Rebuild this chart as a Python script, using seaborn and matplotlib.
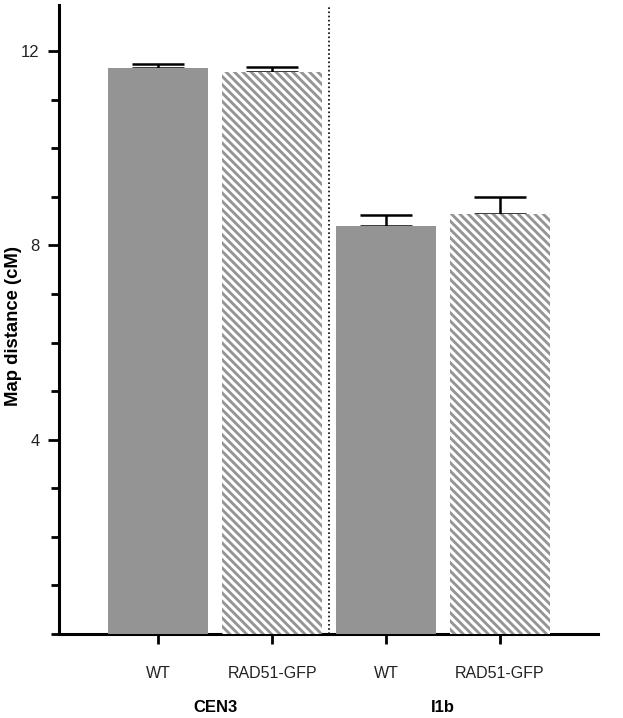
import matplotlib
matplotlib.use("Agg")
import matplotlib.pyplot as plt
import seaborn as sns
import pandas as pd
from matplotlib.ticker import MultipleLocator

categories = ["CEN3 WT", "CEN3 RAD51-GFP", "I1b WT", "I1b RAD51-GFP"]
tick_labels = ["WT", "RAD51-GFP", "WT", "RAD51-GFP"]
groups = ["CEN3", "I1b"]
values = [11.65, 11.58, 8.40, 8.64]
errors = [0.08, 0.10, 0.22, 0.36]

sns.set_theme(style="ticks")
plt.rcParams["font.family"] = ["Liberation Sans", "DejaVu Sans"]
plt.rcParams["hatch.linewidth"] = 2.2
plt.rcParams["hatch.color"] = "white"

df = pd.DataFrame({"cat": categories, "val": values})

fig = plt.figure(figsize=(6.23, 7.18), dpi=100)
ax = fig.add_axes([59/623, 1-634/718, (598-59)/623, (634-5)/718])

sns.barplot(data=df, x="cat", y="val", order=categories, color="#949494",
            width=0.88, saturation=1, errorbar=None, ax=ax, zorder=3)
for i, p in enumerate(ax.patches):
    p.set_facecolor("#949494")
    p.set_linewidth(0)
    if i % 2 == 1:
        p.set_hatch("\\\\\\\\")
        p.set_edgecolor("white")

ax.errorbar(range(4), values, yerr=[[0]*4, errors], fmt="none", ecolor="black",
            elinewidth=1.8, capsize=19, capthick=1.8, zorder=2)

ax.axvline(1.5, color="black", linestyle=(0, (1, 1.5)), linewidth=1.2, zorder=1)

ax.set_xlim(-0.87, 3.86)
ax.set_ylim(0, 12.95)
ax.yaxis.set_major_locator(MultipleLocator(4))
ax.yaxis.set_minor_locator(MultipleLocator(1))
ax.set_yticks([4, 8, 12])
ax.set_yticklabels(["4", "8", "12"], fontsize=12, color="#222222")
ax.set_xticks(range(4))
ax.set_xticklabels(tick_labels, fontsize=11.5, color="#222222")
ax.tick_params(axis="x", length=7, width=2, pad=16, color="black")
ax.tick_params(axis="y", which="major", length=8, width=2, pad=6, color="black")
ax.tick_params(axis="y", which="minor", length=6, width=2, color="black")
ax.set_xlabel("")
ax.set_ylabel("Map distance (cM)", fontsize=13.3, fontweight="bold", color="black")
ax.yaxis.set_label_coords(-0.068, 0.49)

for s in ["top", "right"]:
    ax.spines[s].set_visible(False)
for s in ["left", "bottom"]:
    ax.spines[s].set_linewidth(2.2)
    ax.spines[s].set_color("black")

for gi, g in enumerate(groups):
    ax.text(0.5 + 2*gi, -1.52, g, ha="center", va="center", fontsize=12,
            fontweight="bold", color="black", transform=ax.transData, clip_on=False)

fig.savefig("out.png", dpi=100)
